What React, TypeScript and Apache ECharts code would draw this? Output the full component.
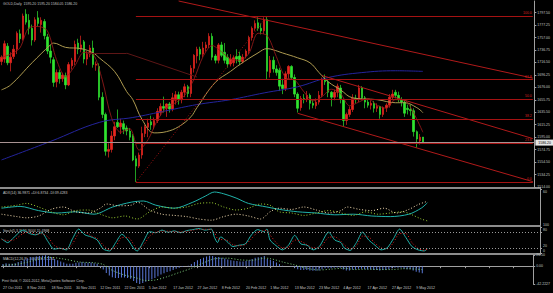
import React, { useEffect, useRef } from "react";
import * as echarts from "echarts";

// ---------- data ----------
const tickLabels = ["27 Oct 2011", "8 Nov 2011", "18 Nov 2011", "30 Nov 2011", "12 Dec 2011", "22 Dec 2011", "5 Jan 2012", "17 Jan 2012", "27 Jan 2012", "8 Feb 2012", "20 Feb 2012", "1 Mar 2012", "13 Mar 2012", "23 Mar 2012", "4 Apr 2012", "17 Apr 2012", "27 Apr 2012", "9 May 2012"];
const SLOT_COUNT = 175;

const opens = [1718,1722,1743,1716,1726,1738,1763,1755,1795,1785,1772,1753,1789,1778,1783,1758,1735,1721,1685,1700,1690,1695,1680,1711,1718,1748,1738,1750,1722,1730,1740,1712,1710,1660,1632,1572,1575,1597,1619,1612,1617,1610,1605,1597,1560,1548,1566,1601,1611,1620,1614,1622,1635,1645,1642,1649,1641,1655,1664,1656,1668,1677,1666,1707,1727,1738,1730,1740,1745,1759,1727,1720,1745,1733,1725,1714,1716,1726,1727,1718,1727,1735,1757,1772,1781,1772,1768,1786,1700,1720,1706,1704,1680,1674,1698,1710,1692,1665,1643,1658,1656,1663,1650,1646,1652,1663,1688,1685,1668,1660,1668,1675,1656,1622,1632,1640,1658,1656,1675,1659,1652,1647,1650,1642,1645,1632,1643,1647,1660,1668,1663,1656,1652,1642,1640,1638,1604,1589,1595.2];
const highs = [1728,1752,1748,1733,1745,1767,1770,1796,1803,1795,1778,1790,1800,1790,1787,1763,1745,1725,1705,1705,1700,1700,1717,1724,1752,1755,1760,1753,1735,1745,1752,1718,1715,1668,1635,1585,1605,1620,1640,1625,1622,1614,1610,1600,1565,1570,1612,1615,1625,1630,1627,1642,1650,1661,1650,1652,1667,1670,1669,1672,1682,1680,1712,1730,1742,1742,1750,1750,1764,1764,1730,1748,1750,1748,1730,1730,1728,1738,1734,1730,1738,1760,1775,1785,1790,1780,1790,1792,1727,1726,1712,1708,1690,1702,1712,1712,1697,1668,1662,1665,1670,1666,1655,1658,1670,1692,1697,1688,1670,1672,1682,1680,1658,1635,1645,1665,1664,1680,1678,1662,1656,1655,1654,1650,1646,1645,1650,1665,1672,1672,1669,1660,1655,1648,1648,1642,1606,1600,1595.2];
const lows = [1712,1716,1712,1702,1722,1730,1748,1752,1778,1762,1744,1750,1775,1765,1754,1730,1715,1677,1676,1682,1685,1673,1678,1705,1712,1730,1733,1715,1712,1725,1708,1703,1655,1626,1565,1562,1570,1590,1610,1600,1600,1598,1590,1556,1522,1545,1560,1595,1595,1607,1608,1618,1630,1635,1628,1635,1637,1648,1648,1650,1660,1660,1660,1700,1715,1720,1725,1734,1740,1720,1715,1715,1725,1715,1708,1710,1710,1715,1712,1715,1723,1730,1752,1768,1768,1762,1763,1688,1692,1700,1695,1670,1665,1670,1690,1688,1660,1635,1638,1650,1652,1640,1642,1641,1648,1660,1680,1660,1645,1655,1660,1650,1612,1615,1628,1636,1650,1652,1655,1642,1643,1640,1635,1636,1625,1628,1636,1643,1655,1658,1652,1645,1628,1632,1630,1596,1578,1583,1584.05];
const closes = [1725,1747,1716,1725,1738,1764,1755,1792,1782,1772,1753,1786,1780,1785,1760,1735,1725,1684,1700,1690,1696,1680,1713,1720,1746,1738,1745,1722,1730,1740,1713,1714,1660,1632,1572,1575,1597,1612,1612,1618,1608,1605,1595,1558,1548,1566,1601,1612,1618,1615,1622,1637,1645,1642,1649,1641,1659,1664,1656,1668,1677,1666,1707,1728,1738,1730,1740,1745,1759,1725,1720,1745,1728,1720,1714,1722,1724,1722,1718,1725,1735,1757,1772,1780,1772,1768,1786,1702,1720,1706,1700,1678,1674,1698,1710,1692,1665,1642,1658,1656,1663,1650,1647,1652,1663,1688,1685,1668,1660,1668,1678,1658,1622,1632,1640,1658,1656,1675,1659,1652,1647,1650,1642,1645,1632,1643,1647,1660,1665,1663,1656,1652,1634,1640,1638,1604,1592,1595,1586.2];

// moving averages: [bar index, price]
const maYellow = [[0,1672],[3,1680],[10,1716],[16,1745],[17,1748],[21,1741],[26,1739],[30,1732],[32,1724],[37,1702],[41,1669],[43,1656],[46,1624],[50,1602],[54,1604],[58,1612],[62,1628],[64,1643],[70,1684],[75,1702],[78,1713],[84,1732],[87,1739],[89,1737],[92,1732],[97,1724],[101,1716],[104,1700],[107,1685],[111,1672],[115,1659],[123,1656],[129,1651],[132,1651],[136,1643],[138,1635]];
const maBlue = [[0,1558],[16,1588],[32,1619],[43,1627],[54,1638],[64,1648],[75,1656],[86,1667],[97,1677],[107,1692],[118,1700],[129,1703],[138,1702]];
const maRed = [[0,1725],[3,1730],[6,1740],[9,1773],[12,1775],[15,1768],[18,1721],[21,1693],[24,1711],[27,1733],[30,1730],[33,1688],[36,1627],[39,1603],[42,1609],[45,1574],[48,1591],[51,1622],[54,1643],[57,1651],[60,1663],[63,1689],[66,1726],[69,1744],[72,1734],[75,1722],[78,1720],[81,1731],[84,1764],[87,1760],[90,1726],[93,1692],[96,1688],[99,1669],[102,1654],[105,1661],[108,1673],[111,1666],[114,1646],[117,1652],[120,1658],[123,1647],[126,1642],[129,1656],[132,1655],[135,1634],[138,1603]];

// ADX(14)
const adxLine = [[0,28],[6,31],[12,24],[18,20],[24,22],[30,18],[36,30],[42,38],[46,40],[50,33],[56,28],[62,38],[66,48],[69,55],[72,52],[76,45],[80,36],[86,30],[90,26],[96,22],[102,20],[108,17],[114,18],[120,15],[126,14],[132,18],[136,28],[138,36.99]];
const plusDI = [[0,30],[5,33],[8,36],[12,30],[16,22],[20,17],[24,24],[28,25],[32,18],[36,12],[40,15],[44,10],[48,22],[52,30],[56,28],[60,30],[64,36],[68,37],[72,30],[76,25],[80,28],[84,35],[87,33],[90,22],[94,20],[98,16],[102,20],[106,24],[110,20],[114,16],[118,22],[122,18],[126,20],[130,22],[133,17],[136,10],[138,6.87]];
const minusDI = [[0,18],[5,14],[8,12],[12,15],[16,26],[20,30],[24,22],[28,20],[32,28],[34,35],[38,32],[42,33],[44,38],[48,25],[52,18],[56,16],[60,14],[64,10],[68,8],[72,14],[76,18],[80,15],[84,10],[87,22],[90,28],[94,26],[98,30],[102,25],[106,20],[110,24],[112,30],[116,26],[120,24],[124,28],[128,20],[132,26],[135,34],[138,39.43]];

// Stochastic(5,3,3)
const stochMain = [[0,55],[2,40],[4,60],[7,88],[9,75],[11,70],[13,78],[15,45],[17,15],[19,18],[21,12],[23,55],[25,92],[27,70],[29,62],[31,50],[33,15],[35,8],[37,40],[39,72],[41,50],[43,15],[44,8],[46,45],[48,82],[50,78],[52,88],[54,80],[56,85],[58,78],[60,86],[62,90],[64,94],[66,88],[68,92],[69,60],[70,40],[71,62],[73,45],[75,25],[77,30],[79,35],[81,70],[83,90],[85,82],[86,92],[87,50],[89,28],[91,12],[93,30],[95,68],[97,35],[99,30],[101,12],[103,25],[106,80],[108,50],[110,40],[111,20],[113,10],[115,40],[117,80],[119,50],[121,30],[123,12],[125,20],[127,55],[129,92],[131,60],[133,25],[135,12],[137,8],[138,15.94]];
const stochSignal = [[0,52],[2,48],[4,50],[7,75],[9,80],[11,72],[13,74],[15,62],[17,30],[19,18],[21,15],[23,35],[25,75],[27,80],[29,66],[31,56],[33,30],[35,12],[37,25],[39,60],[41,60],[43,30],[44,15],[46,30],[48,65],[50,80],[52,84],[54,84],[56,82],[58,81],[60,83],[62,88],[64,91],[66,91],[68,90],[69,78],[70,55],[71,52],[73,50],[75,32],[77,28],[79,32],[81,55],[83,80],[85,86],[86,88],[87,70],[89,40],[91,20],[93,22],[95,50],[97,45],[99,32],[101,20],[103,20],[106,60],[108,62],[110,45],[111,32],[113,15],[115,28],[117,65],[119,62],[121,38],[123,20],[125,16],[127,40],[129,75],[131,75],[133,40],[135,18],[137,10],[138,15.5]];

// MACD(12,26,9)
const macdHist = [5,7,6,6,7,10,12,16,19,21,21, 23,24,25,26,24,21,17,14,11,9, 6,6,6,8,9,10,9,9,9,7,6, -2,-8,-16,-22,-26,-28,-28,-27,-27,-28,-30,-35,-40, -42,-40,-37,-34,-31,-28,-24,-20,-17,-14,-12,-9,-6,-4,-2, 0,1,5,10,14,17,20,23,25,24,22, 22,20,18,16,14,13,12,11,11,12, 14,17,20,21,22,24,17, 15,12,9,5,1,0,0,-1,-3,-7,-9,-9,-9, -10,-11,-11,-10,-7,-5,-5,-5,-4,-3,-4,-8, -10,-10,-8,-8,-6,-6,-7,-8,-8,-9,-9,-10,-9, -9,-7,-5,-4,-4,-4,-6,-7,-7,-10,-13,-15,-16.68];
const macdSignal = [[0,2],[5,5],[10,13],[15,21],[20,17],[25,10],[30,8],[33,4],[36,-10],[40,-21],[44,-28],[47,-34],[50,-33],[54,-25],[58,-15],[62,-5],[66,8],[70,18],[74,19],[78,15],[82,14],[86,19],[88,18],[92,10],[96,3],[100,-5],[104,-9],[108,-7],[112,-5],[116,-8],[120,-7],[124,-8],[128,-8],[132,-6],[136,-7],[138,-8.22]];

// axis ticks
const priceTicks = [1514, 1534.25, 1554.5, 1574.75, 1595, 1615.25, 1635.5, 1655.75, 1676, 1696.25, 1716.5, 1736.75, 1757, 1777.25, 1797.5];
const adxTicks = [60];
const stochTicks = [100, 80, 20, 0];
const macdTicks = [26.5, 0, -42.2227];
const bidPrice = 1586.2;

// drawn objects: Fibonacci from Dec 29 low to Feb 29 high, channel lines
const fibLow = 1522;
const fibHigh = 1791.5;
const fibStartIdx = 44;
const fibEndIdx = 87;
const fibRatios = [1, 0.618, 0.5, 0.382, 0.236, 0];
const fibLabels = ["100.0", "61.8", "50.0", "38.2", "23.6", "0.0"];
const channelLines = [
  [58, 1816.4, 174, 1691.0],
  [105, 1695.1, 174, 1592.7],
  [97, 1633.8, 174, 1522.7],
];
const dimLine = [[28, 1731.6], [41, 1731.6], [64, 1692.8]];

const titleMain = "GOLD,Daily  1595.20 1595.20 1584.05 1586.20";
const titleAdx = "ADX(14) 36.9871 +DI:6.8734 -DI:39.4283";
const titleStoch = "Stoch(5,3,3) 15.9444 15.4968";
const titleMacd = "MACD(12,26,9) -16.6791 -8.2211";
const copyright = "First Gold, \u00a9 2001-2012, MetaQuotes Software Corp.";

// ---------- chart ----------
const FONT = "Liberation Sans";
const TXT = "#c4c4c4";
const AX = "#a0a0a0";
const UP = "#e8261f";
const DOWN = "#2fe42f";
const FIBC = "#a51212";

function buildOption() {
  const categories = Array.from({ length: SLOT_COUNT }, (_, i) => String(i));
  const candleData = opens.map((o, i) => [o, closes[i], lows[i], highs[i]]);
  const grids = [
    { left: 0, right: 13, top: 1, height: 186 },
    { left: 0, right: 13, top: 189, height: 36 },
    { left: 0, right: 13, top: 227, height: 26 },
    { left: 0, right: 13, top: 255, height: 29 },
  ];

  const xAxis = grids.map((_, gi) => ({
    type: "category",
    gridIndex: gi,
    data: categories,
    boundaryGap: true,
    axisLine: { show: gi === 3, lineStyle: { color: AX, width: 1 } },
    axisTick: { show: gi === 3, interval: 7, alignWithLabel: true, length: 2, lineStyle: { color: AX } },
    axisLabel:
      gi === 3
        ? {
            show: true,
            interval: 7,
            align: "left",
            fontSize: 3.6,
            color: TXT,
            fontFamily: FONT,
            margin: 2,
            formatter: (v: string) => tickLabels[Number(v) / 8] ?? "",
          }
        : { show: false },
    splitLine: { show: false },
  }));

  const mkY = (
    gi: number,
    min: number,
    max: number,
    ticks: number[],
    fmt: (v: number) => string,
    vAlign: string,
    pad: number[] = [0, 0, 0, 0]
  ) => ({
    type: "value",
    gridIndex: gi,
    position: "right",
    min,
    max,
    axisLine: { show: true, lineStyle: { color: AX } },
    axisTick: { show: true, length: 2, customValues: ticks, lineStyle: { color: AX } },
    axisLabel: {
      fontSize: 3.5,
      lineHeight: 4,
      color: TXT,
      fontFamily: FONT,
      margin: 3,
      customValues: ticks,
      formatter: fmt,
      verticalAlign: vAlign,
      padding: pad,
    },
    splitLine: { show: false },
  });

  const yAxis = [
    mkY(0, 1514, 1816.4, priceTicks, (v) => v.toFixed(2), "middle"),
    mkY(1, 0, 60, adxTicks, (v) => String(v), "top", [1, 0, 0, 0]),
    mkY(2, 0, 100, stochTicks, (v) => String(v), "bottom"),
    mkY(3, -42.2227, 26.5, macdTicks, (v) => (v < -40 ? "-42.2227" : v.toFixed(2)), "middle", [2, 0, 0, 0]),
  ];

  const fibData: any[] = fibRatios.map((r, k) => {
    const p = fibLow + r * (fibHigh - fibLow);
    return [
      {
        coord: [fibStartIdx, p],
        lineStyle: { color: FIBC, width: 1, type: "solid" },
        label: {
          show: true,
          position: "insideEndTop",
          formatter: fibLabels[k],
          color: "#d82020",
          fontSize: 3.5,
          fontFamily: FONT,
          distance: 1,
        },
      },
      { coord: [SLOT_COUNT - 1, p] },
    ];
  });
  const chanData: any[] = channelLines.map((c) => [
    { coord: [c[0], c[1]], lineStyle: { color: "#b01a1a", width: 1, type: "solid" } },
    { coord: [c[2], c[3]] },
  ]);
  const dimData: any[] = dimLine.slice(0, -1).map((p, k) => [
    { coord: p, lineStyle: { color: "#5e1616", width: 1, type: "solid" } },
    { coord: dimLine[k + 1] },
  ]);
  const fibTrend: any[] = [
    [
      { coord: [fibStartIdx, fibLow], lineStyle: { color: FIBC, width: 1, type: [1, 2] } },
      { coord: [fibEndIdx, fibHigh] },
    ],
  ];
  const bidLine: any = {
    yAxis: bidPrice,
    lineStyle: { color: "#a89292", width: 1, type: "solid" },
    label: {
      show: true,
      position: "end",
      formatter: "1586.20",
      color: "#000",
      backgroundColor: "#e6e6e6",
      fontSize: 3.5,
      fontFamily: FONT,
      padding: [1, 3, 1, 3],
      distance: 1,
    },
  };

  const line = (name: string, data: any, xi: number, color: string, opts: any = {}) => ({
    type: "line",
    name,
    data,
    xAxisIndex: xi,
    yAxisIndex: xi,
    showSymbol: false,
    symbol: "none",
    smooth: opts.smooth ?? 0.3,
    silent: true,
    lineStyle: { color, width: opts.width ?? 1, type: opts.type ?? "solid", opacity: opts.opacity ?? 1 },
    z: opts.z ?? 3,
    markLine: opts.markLine,
  });

  return {
    animation: false,
    backgroundColor: "#000000",
    textStyle: { fontFamily: FONT },
    grid: grids,
    xAxis,
    yAxis,
    series: [
      {
        type: "candlestick",
        name: "GOLD",
        xAxisIndex: 0,
        yAxisIndex: 0,
        data: candleData,
        barWidth: 2,
        silent: true,
        itemStyle: { color: UP, color0: DOWN, borderColor: UP, borderColor0: DOWN, borderWidth: 0.7 },
        z: 2,
        markLine: {
          silent: true,
          symbol: ["none", "none"],
          label: { show: false },
          data: [...dimData, ...chanData, ...fibData, ...fibTrend, bidLine],
        },
      },
      line("MA long", maBlue, 0, "#24249c", { smooth: 0.4 }),
      line("MA mid", maYellow, 0, "#ad9a50", { smooth: 0.4 }),
      line("MA fast", maRed, 0, "#a01c1c", { smooth: 0.3, width: 0.8 }),
      line("ADX", adxLine, 1, "#20b2aa", { smooth: 0.3 }),
      line("+DI", plusDI, 1, "#9acd32", { smooth: 0.3, type: [1, 2] }),
      line("-DI", minusDI, 1, "#f5deb3", { smooth: 0.3, type: [1, 2] }),
      line("Stoch", stochMain, 2, "#20b2aa", {
        smooth: 0.25,
        markLine: {
          silent: true,
          symbol: ["none", "none"],
          label: { show: false },
          lineStyle: { color: "#9a9a9a", type: [1, 2], width: 1 },
          data: [{ yAxis: 80 }, { yAxis: 20 }],
        },
      }),
      line("Signal", stochSignal, 2, "#e02020", { smooth: 0.25, type: [1, 2] }),
      {
        type: "bar",
        name: "MACD",
        data: macdHist,
        xAxisIndex: 3,
        yAxisIndex: 3,
        barWidth: 1,
        silent: true,
        itemStyle: { color: "#5a78d8" },
      },
      line("MACD signal", macdSignal, 3, "#7ccc7c", { smooth: 0.3, type: [1, 2], z: 4 }),
    ],
    graphic: [
      { type: "rect", shape: { x: 0, y: 187, width: 541, height: 2 }, style: { fill: "#8c8c8c" }, silent: true },
      { type: "rect", shape: { x: 0, y: 225, width: 541, height: 2 }, style: { fill: "#8c8c8c" }, silent: true },
      { type: "rect", shape: { x: 0, y: 253, width: 541, height: 2 }, style: { fill: "#8c8c8c" }, silent: true },
      { type: "text", x: 3, y: 2, style: { text: titleMain, fill: TXT, fontSize: 3.5, fontFamily: FONT, textVerticalAlign: "top" }, silent: true },
      { type: "text", x: 3, y: 191, style: { text: titleAdx, fill: TXT, fontSize: 3.5, fontFamily: FONT, textVerticalAlign: "top" }, silent: true },
      { type: "text", x: 3, y: 229, style: { text: titleStoch, fill: TXT, fontSize: 3.5, fontFamily: FONT, textVerticalAlign: "top" }, silent: true },
      { type: "text", x: 3, y: 257, style: { text: titleMacd, fill: TXT, fontSize: 3.5, fontFamily: FONT, textVerticalAlign: "top" }, silent: true },
      { type: "text", x: 2, y: 279, style: { text: copyright, fill: TXT, fontSize: 3.5, fontFamily: FONT, textVerticalAlign: "top" }, silent: true },
    ],
  };
}

export default function App() {
  const ref = useRef<HTMLDivElement>(null);
  useEffect(() => {
    document.body.style.margin = "0";
    document.body.style.background = "#000";
    const chart = echarts.init(ref.current as HTMLDivElement, undefined, { renderer: "svg", width: 553, height: 293 });
    chart.setOption(buildOption() as any);
    return () => chart.dispose();
  }, []);
  return (
    <div
      ref={ref}
      style={{ position: "fixed", left: 0, top: 0, width: 553, height: 293, background: "#000" }}
    />
  );
}
